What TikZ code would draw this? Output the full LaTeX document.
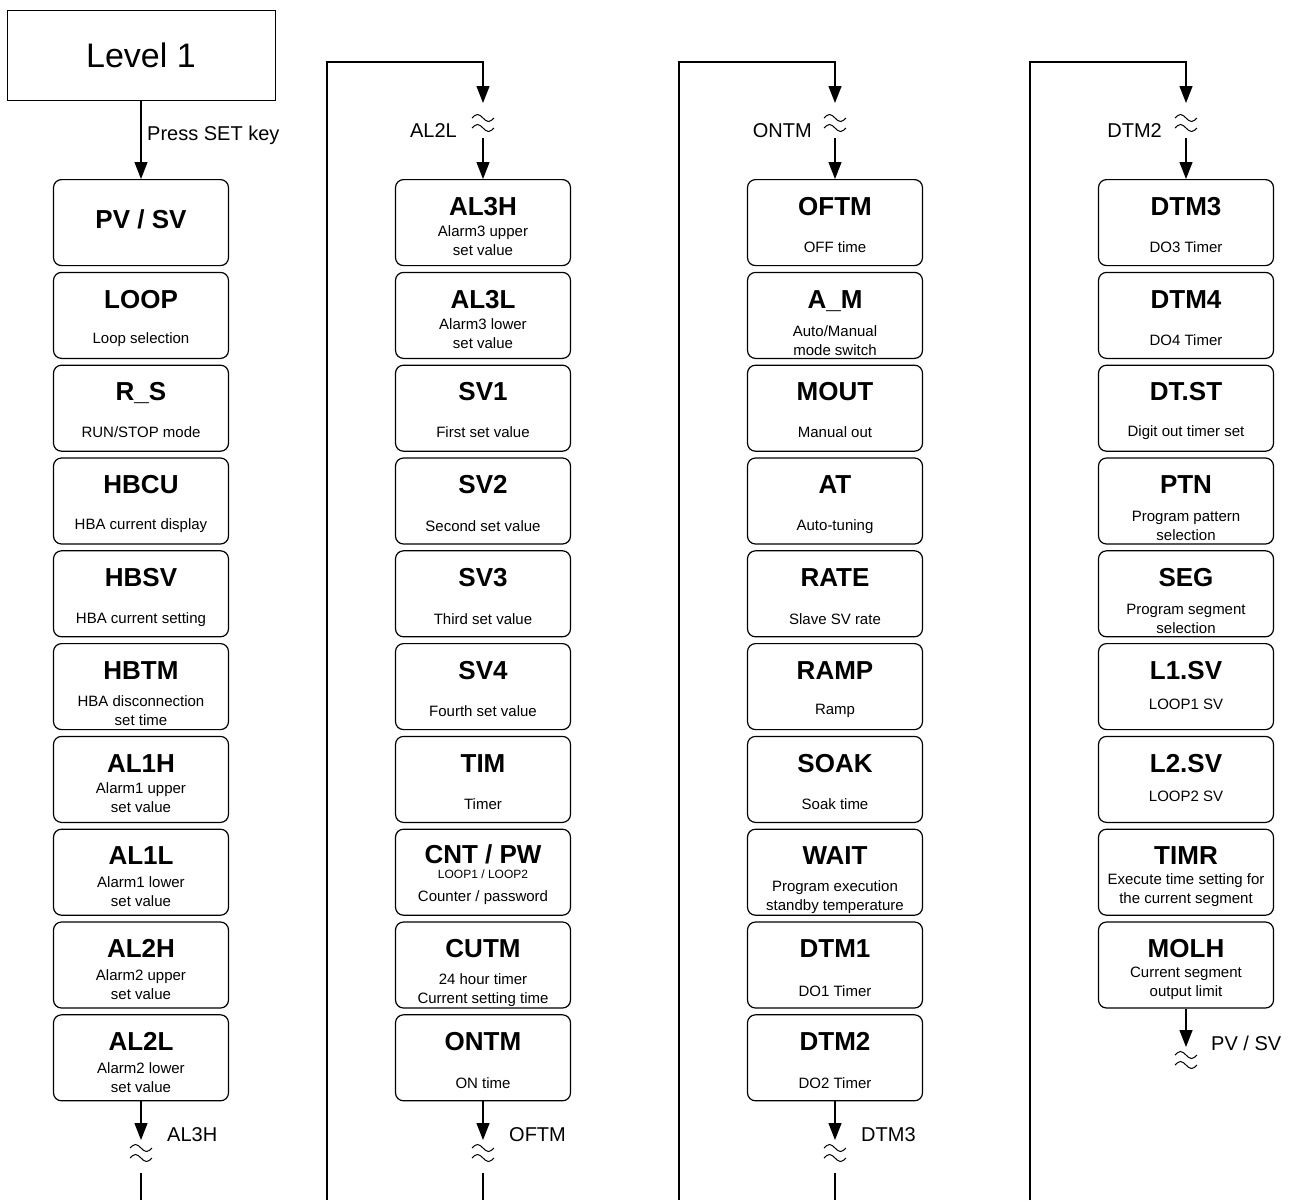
\documentclass[tikz,border=0pt]{standalone}
\usepackage{fontspec}
\setmainfont{Liberation Sans}
\usetikzlibrary{arrows.meta}

\begin{document}
\begin{tikzpicture}[x=1pt, y=-1pt,
	menubox/.style={draw, line width=1.2pt, rounded corners=8pt, minimum width=175pt, minimum height=86pt, inner sep=0pt, anchor=north},
	ttl/.style={font=\fontsize{26}{30}\selectfont\bfseries, inner sep=0pt, text height=18.7pt, text depth=0pt},
	sub/.style={font=\fontsize{15}{19}\selectfont, align=center, inner sep=0pt},
	lbl/.style={font=\fontsize{20}{24}\selectfont, inner sep=0pt},
	flow/.style={line width=1.3pt, -{Triangle[length=17pt, width=13pt]}},
	plain/.style={line width=1.3pt},
	brk/.pic={\draw[line width=1pt] (-11,-5) sin (-5.5,-8.5) cos (0,-5) sin (5.5,-1.5) cos (11,-5)
		(-11,5) sin (-5.5,1.5) cos (0,5) sin (5.5,8.5) cos (11,5);}]
	\useasboundingbox (0,0) rectangle (1290,1200);
	% start
	\node[draw, line width=1pt, minimum width=268pt, minimum height=90pt, font=\fontsize{34}{40}\selectfont] (level) at (141,55) {Level 1};
	% column 1
	\node[menubox] (pvsv) at (141,179) {};
	\node[ttl] (pvsv-t) at ([yshift=-40pt]pvsv.north) {PV / SV};
	\foreach \bname/\btitle/\bsub/\boff/\brow in {
		loop/LOOP/Loop selection/68/1, rs/R\_S/{RUN/STOP mode}/68/2,
		hbcu/HBCU/HBA current display/68/3, hbsv/HBSV/HBA current setting/69/4,
		hbtm/HBTM/{HBA disconnection\\set time}/68/5, al1h/AL1H/{Alarm1 upper\\set value}/62/6,
		al1l/AL1L/{Alarm1 lower\\set value}/63/7, al2h/AL2H/{Alarm2 upper\\set value}/63/8,
		al2l/AL2L/{Alarm2 lower\\set value}/63/9}{
		\node[menubox] (\bname) at (141,{179+92.8*\brow}) {};
		\node[ttl] (\bname-t) at ([yshift=-27pt]\bname.north) {\btitle};
		\node[sub] (\bname-s) at ([yshift=-\boff pt]\bname.north) {\bsub};
	}
	% column 2
	\foreach \bname/\btitle/\bsub/\boff/\brow in {
		al3h/AL3H/{Alarm3 upper\\set value}/62/0, al3l/AL3L/{Alarm3 lower\\set value}/62/1,
		sv1/SV1/First set value/68/2, sv2/SV2/Second set value/69/3,
		sv3/SV3/Third set value/69/4, sv4/SV4/Fourth set value/68/5,
		tim/TIM/Timer/68/6, cutm/CUTM/{24 hour timer\\Current setting time}/69/8,
		ontm/ONTM/ON time/69/9}{
		\node[menubox] (\bname) at (483,{179+92.8*\brow}) {};
		\node[ttl] (\bname-t) at ([yshift=-27pt]\bname.north) {\btitle};
		\node[sub] (\bname-s) at ([yshift=-\boff pt]\bname.north) {\bsub};
	}
	\node[menubox] (cntpw) at (483,{179+92.8*7}) {};
	\node[ttl] (cntpw-t) at ([yshift=-26pt]cntpw.north) {CNT / PW};
	\node[font=\fontsize{12}{14}\selectfont, inner sep=0pt] (cntpw-l) at ([yshift=-46pt]cntpw.north) {LOOP1 / LOOP2};
	\node[sub] (cntpw-s) at ([yshift=-69pt]cntpw.north) {Counter / password};
	% column 3
	\foreach \bname/\btitle/\bsub/\boff/\brow in {
		oftm/OFTM/OFF time/68/0, am/A\_M/{Auto/Manual\\mode switch}/69/1,
		mout/MOUT/Manual out/68/2, atune/AT/Auto-tuning/69/3,
		rate/RATE/Slave SV rate/69/4, ramp/RAMP/Ramp/68/5,
		soak/SOAK/Soak time/68/6, wait/WAIT/{Program execution\\standby temperature}/69/7,
		dtm1/DTM1/DO1 Timer/70/8, dtm2/DTM2/DO2 Timer/69/9}{
		\node[menubox] (\bname) at (835,{179+92.8*\brow}) {};
		\node[ttl] (\bname-t) at ([yshift=-27pt]\bname.north) {\btitle};
		\node[sub] (\bname-s) at ([yshift=-\boff pt]\bname.north) {\bsub};
	}
	% column 4
	\foreach \bname/\btitle/\bsub/\boff/\brow in {
		dtm3/DTM3/DO3 Timer/68/0, dtm4/DTM4/DO4 Timer/68/1,
		dtst/DT.ST/Digit out timer set/68/2, ptn/PTN/{Program pattern\\selection}/69/3,
		seg/SEG/{Program segment\\selection}/69/4, l1sv/L1.SV/LOOP1 SV/61/5,
		l2sv/L2.SV/LOOP2 SV/61/6, timr/TIMR/{Execute time setting for\\the current segment}/62/7,
		molh/MOLH/{Current segment\\output limit}/62/8}{
		\node[menubox] (\bname) at (1186,{179+92.8*\brow}) {};
		\node[ttl] (\bname-t) at ([yshift=-27pt]\bname.north) {\btitle};
		\node[sub] (\bname-s) at ([yshift=-\boff pt]\bname.north) {\bsub};
	}
	% entry
	\draw[flow] (level) -- (pvsv);
	\node[lbl, anchor=west] (press) at (147,135) {Press SET key};
	% column 1 -> column 2
	\coordinate (c1a) at (141,1140);
	\coordinate (c1b) at (141,1173);
	\coordinate (c1c) at (141,1200);
	\draw[flow] (al2l) -- (c1a);
	\pic at (141,1153) {brk};
	\draw[plain] (c1b) -- (c1c);
	\node[lbl, anchor=west] (to-al3h) at (167,1135) {AL3H};
	\coordinate (c2s) at (327,1200);
	\coordinate (c2t) at (483,62);
	\coordinate (c2a) at (483,103);
	\coordinate (c2b) at (483,138);
	\draw[flow] (c2s) |- (c2t) -- (c2a);
	\pic at (483,123) {brk};
	\draw[flow] (c2b) -- (al3h);
	\node[lbl, anchor=east] (from-al2l) at (457,131) {AL2L};
	% column 2 -> column 3
	\coordinate (c2d) at (483,1140);
	\coordinate (c2e) at (483,1173);
	\coordinate (c2f) at (483,1200);
	\draw[flow] (ontm) -- (c2d);
	\pic at (483,1153) {brk};
	\draw[plain] (c2e) -- (c2f);
	\node[lbl, anchor=west] (to-oftm) at (509,1135) {OFTM};
	\coordinate (c3s) at (679,1200);
	\coordinate (c3t) at (835,62);
	\coordinate (c3a) at (835,103);
	\coordinate (c3b) at (835,138);
	\draw[flow] (c3s) |- (c3t) -- (c3a);
	\pic at (835,123) {brk};
	\draw[flow] (c3b) -- (oftm);
	\node[lbl, anchor=east] (from-ontm) at (812,131) {ONTM};
	% column 3 -> column 4
	\coordinate (c3d) at (835,1140);
	\coordinate (c3e) at (835,1173);
	\coordinate (c3f) at (835,1200);
	\draw[flow] (dtm2) -- (c3d);
	\pic at (835,1153) {brk};
	\draw[plain] (c3e) -- (c3f);
	\node[lbl, anchor=west] (to-dtm3) at (861,1135) {DTM3};
	\coordinate (c4s) at (1030,1200);
	\coordinate (c4t) at (1186,62);
	\coordinate (c4a) at (1186,103);
	\coordinate (c4b) at (1186,138);
	\draw[flow] (c4s) |- (c4t) -- (c4a);
	\pic at (1186,123) {brk};
	\draw[flow] (c4b) -- (dtm3);
	\node[lbl, anchor=east] (from-dtm2) at (1162,131) {DTM2};
	% back to start
	\coordinate (c4d) at (1186,1047);
	\draw[flow] (molh) -- (c4d);
	\pic at (1186,1060) {brk};
	\node[lbl, anchor=west] (to-pvsv) at (1211,1043) {PV / SV};
\end{tikzpicture}
\end{document}
